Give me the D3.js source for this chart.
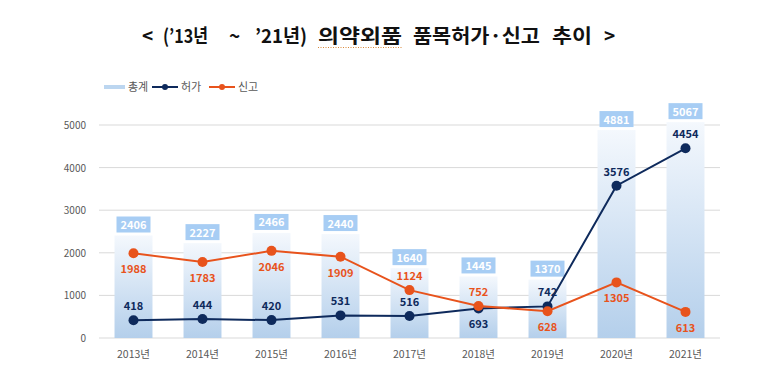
<!DOCTYPE html>
<html>
<head>
<meta charset="utf-8">
<script src="https://d3js.org/d3.v7.min.js"></script>
<style>
  body { margin: 0; background: #fff; }
  svg { display: block; font-family: "Noto Sans CJK KR", "Noto Sans", sans-serif; }
</style>
</head>
<body>
<svg width="758" height="388"></svg>
<script>
const years = ["2013년", "2014년", "2015년", "2016년", "2017년", "2018년", "2019년", "2020년", "2021년"];
const totals = [2406, 2227, 2466, 2440, 1640, 1445, 1370, 4881, 5067];
const permits = [418, 444, 420, 531, 516, 693, 742, 3576, 4454];
const reports = [1988, 1783, 2046, 1909, 1124, 752, 628, 1305, 613];
const yTicks = [0, 1000, 2000, 3000, 4000, 5000];
const titleParts = [
  { t: "<", x: 142, w: 0 }, { t: "(’13년", x: 163, w: 45 }, { t: "~", x: 229, w: 0 },
  { t: "’21년)", x: 255, w: 52 }, { t: "의약외품", x: 318, w: 84 },
  { t: "품목허가·신고", x: 413, w: 127 }, { t: "추이", x: 552, w: 40 }, { t: ">", x: 604, w: 0 }
];

const navy = "#0e2a5c", orange = "#e8531c";
const svg = d3.select("svg");

const x = d3.scaleBand().domain(years).range([99, 720])
  .paddingInner(0.45).paddingOuter(0.225);
const y = d3.scaleLinear().domain([0, 5000]).range([338, 125]);

// gradient for bars
const defs = svg.append("defs");
const grad = defs.append("linearGradient").attr("id", "barGrad")
  .attr("x1", 0).attr("y1", 0).attr("x2", 0).attr("y2", 1);
grad.append("stop").attr("offset", "0%").attr("stop-color", "#f4f8fd");
grad.append("stop").attr("offset", "100%").attr("stop-color", "#b4cfeb");

// title, placed piece by piece
svg.append("g").selectAll("text").data(titleParts).join("text")
  .attr("x", d => d.x).attr("y", 43)
  .attr("textLength", d => d.w || null)
  .attr("lengthAdjust", "spacingAndGlyphs")
  .attr("font-size", 19).attr("font-weight", "bold").attr("fill", "#111")
  .text(d => d.t);
svg.append("line")
  .attr("x1", 318).attr("x2", 402).attr("y1", 47.5).attr("y2", 47.5)
  .attr("stroke", "#d9893a").attr("stroke-width", 1).attr("stroke-dasharray", "1,1.5");

// gridlines
svg.append("g").selectAll("line").data(yTicks).join("line")
  .attr("x1", 99).attr("x2", 720)
  .attr("y1", d => y(d)).attr("y2", d => y(d))
  .attr("stroke", "#d9d9d9").attr("stroke-width", 1);

// y axis labels
svg.append("g").selectAll("text").data(yTicks).join("text")
  .attr("x", 86).attr("y", d => y(d) + 4)
  .attr("text-anchor", "end").attr("font-size", 10).attr("fill", "#595959")
  .text(d => d);

// x axis labels
svg.append("g").selectAll("text").data(years).join("text")
  .attr("x", d => x(d) + x.bandwidth() / 2).attr("y", 358)
  .attr("text-anchor", "middle").attr("font-size", 10.5).attr("fill", "#595959")
  .text(d => d);

// bars
svg.append("g").selectAll("rect").data(totals).join("rect")
  .attr("x", (d, i) => x(years[i]))
  .attr("y", d => y(d))
  .attr("width", x.bandwidth())
  .attr("height", d => y(0) - y(d))
  .attr("fill", "url(#barGrad)");

// total label boxes
const boxes = svg.append("g").selectAll("g").data(totals).join("g")
  .attr("transform", (d, i) => `translate(${x(years[i]) + x.bandwidth() / 2},${y(d) - 11})`);
boxes.append("rect")
  .attr("x", -17).attr("y", -8).attr("width", 34).attr("height", 16)
  .attr("fill", "#a7cdf4");
boxes.append("text")
  .attr("y", 4.5).attr("text-anchor", "middle")
  .attr("font-size", 11).attr("font-weight", "bold").attr("fill", "#fff")
  .text(d => d);

const cx = i => x(years[i]) + x.bandwidth() / 2;

function drawSeries(vals, color, labelAbove) {
  const line = d3.line().x((d, i) => cx(i)).y(d => y(d));
  svg.append("path").datum(vals)
    .attr("d", line).attr("fill", "none")
    .attr("stroke", color).attr("stroke-width", 2);
  svg.append("g").selectAll("circle").data(vals).join("circle")
    .attr("cx", (d, i) => cx(i)).attr("cy", d => y(d)).attr("r", 5)
    .attr("fill", color);
  svg.append("g").selectAll("text").data(vals).join("text")
    .attr("x", (d, i) => cx(i))
    .attr("y", (d, i) => labelAbove(i) ? y(d) - 10 : y(d) + 20)
    .attr("text-anchor", "middle")
    .attr("font-size", 11).attr("font-weight", "bold").attr("fill", color)
    .text(d => d);
}

drawSeries(permits, navy, i => i !== 5);
drawSeries(reports, orange, i => i === 4 || i === 5);

// legend
const lg = svg.append("g").attr("font-size", 11).attr("fill", "#595959");
lg.append("line").attr("x1", 104).attr("x2", 125).attr("y1", 87).attr("y2", 87)
  .attr("stroke", "#bcd6f0").attr("stroke-width", 4);
lg.append("text").attr("x", 128).attr("y", 91).text("총계");
lg.append("line").attr("x1", 152).attr("x2", 178).attr("y1", 87).attr("y2", 87)
  .attr("stroke", navy).attr("stroke-width", 2);
lg.append("circle").attr("cx", 165).attr("cy", 87).attr("r", 3).attr("fill", navy);
lg.append("text").attr("x", 181).attr("y", 91).text("허가");
lg.append("line").attr("x1", 209).attr("x2", 235).attr("y1", 87).attr("y2", 87)
  .attr("stroke", orange).attr("stroke-width", 2);
lg.append("circle").attr("cx", 222).attr("cy", 87).attr("r", 3).attr("fill", orange);
lg.append("text").attr("x", 238).attr("y", 91).text("신고");
</script>
</body>
</html>
